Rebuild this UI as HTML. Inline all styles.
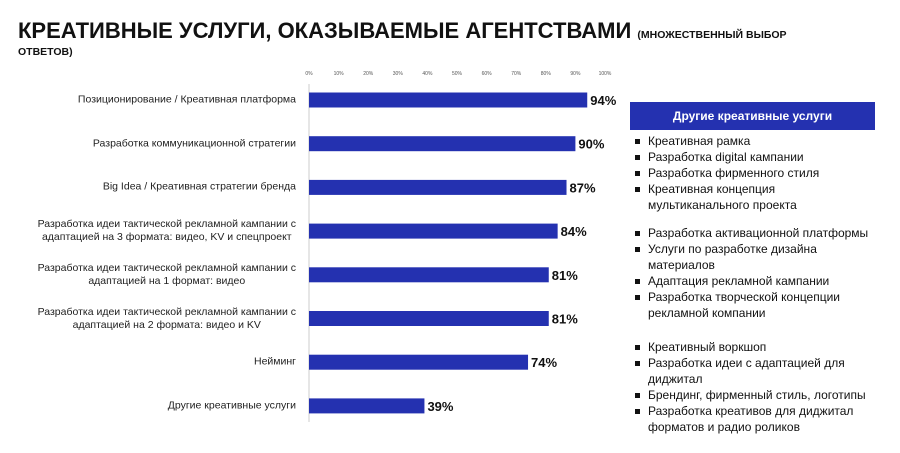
<!DOCTYPE html>
<html><head><meta charset="utf-8"><style>
body{margin:0;width:900px;height:453px;background:#fff;font-family:"Liberation Sans","DejaVu Sans",sans-serif;position:relative;overflow:hidden}
.t{position:absolute;left:18px;top:18px;font-weight:bold;font-size:22px;color:#111;line-height:26px;white-space:nowrap}
.t small{font-size:10.5px}
.t2{position:absolute;left:18px;top:46px;font-weight:bold;font-size:10.5px;color:#111}
.lb{position:absolute;right:604px;font-size:10.5px;color:#222;text-align:center;line-height:13px;transform:translateY(-50%);white-space:nowrap}
.hd{position:absolute;left:630px;top:102px;width:245px;height:28px;background:#2431b0;color:#fff;font-weight:bold;font-size:12px;text-align:center;line-height:28px}
.li{position:absolute;left:635px;font-size:12px;color:#111;line-height:16px}
.li:before{content:"";position:absolute;left:0;top:6px;width:5px;height:5px;background:#111}
.li span{display:block;margin-left:13px}
</style></head><body>
<div class="t">КРЕАТИВНЫЕ УСЛУГИ, ОКАЗЫВАЕМЫЕ АГЕНТСТВАМИ <small>(МНОЖЕСТВЕННЫЙ ВЫБОР</small></div>
<div class="t2">ОТВЕТОВ)</div>
<svg id="c" width="900" height="453" style="position:absolute;left:0;top:0"></svg>
<div id="labels"></div>
<div class="hd">Другие креативные услуги</div>
<div class="li" style="top:133px"><span>Креативная рамка</span></div>
<div class="li" style="top:149px"><span>Разработка digital кампании</span></div>
<div class="li" style="top:165px"><span>Разработка фирменного стиля</span></div>
<div class="li" style="top:181px"><span>Креативная концепция<br>мультиканального проекта</span></div>
<div class="li" style="top:225px"><span>Разработка активационной платформы</span></div>
<div class="li" style="top:241px"><span>Услуги по разработке дизайна<br>материалов</span></div>
<div class="li" style="top:273px"><span>Адаптация рекламной кампании</span></div>
<div class="li" style="top:289px"><span>Разработка творческой концепции<br>рекламной компании</span></div>
<div class="li" style="top:339px"><span>Креативный воркшоп</span></div>
<div class="li" style="top:355px"><span>Разработка идеи с адаптацией для<br>диджитал</span></div>
<div class="li" style="top:387px"><span>Брендинг, фирменный стиль, логотипы</span></div>
<div class="li" style="top:403px"><span>Разработка креативов для диджитал<br>форматов и радио роликов</span></div>
<script>
const categories=["Позиционирование / Креативная платформа","Разработка коммуникационной стратегии","Big Idea / Креативная стратегии бренда","Разработка идеи тактической рекламной кампании с<br>адаптацией на 3 формата: видео, KV и спецпроект","Разработка идеи тактической рекламной кампании с<br>адаптацией на 1 формат: видео","Разработка идеи тактической рекламной кампании с<br>адаптацией на 2 формата: видео и KV","Нейминг","Другие креативные услуги"];
const values=[94,90,87,84,81,81,74,39];
const ticks=[0,10,20,30,40,50,60,70,80,90,100];
const NS="http://www.w3.org/2000/svg",svg=document.getElementById('c');
const x=v=>309+v*2.96, y=i=>100+i*43.7;
function mk(t,a){const e=document.createElementNS(NS,t);for(const k in a)e.setAttribute(k,a[k]);svg.appendChild(e);return e;}
const ax=mk('line',{x1:309,x2:309,y1:84,y2:422,stroke:'#ccc','stroke-width':1});

ticks.forEach(t=>{const e=mk('text',{x:x(t),y:75,'font-size':5,'text-anchor':'middle',fill:'#555'});e.textContent=t+'%';
});
const L=document.getElementById('labels');
values.forEach((v,i)=>{
const r=mk('rect',{x:309,y:y(i)-7.5,width:x(v)-309,height:15,fill:'#2431b0'});

const t=mk('text',{x:x(v)+3,y:y(i)+5,'font-size':13,'font-weight':'bold',fill:'#111'});t.textContent=v+'%';

const d=document.createElement('div');d.className='lb';d.style.top=y(i)+'px';d.innerHTML=categories[i];
L.appendChild(d);
});
</script>
</body></html>
